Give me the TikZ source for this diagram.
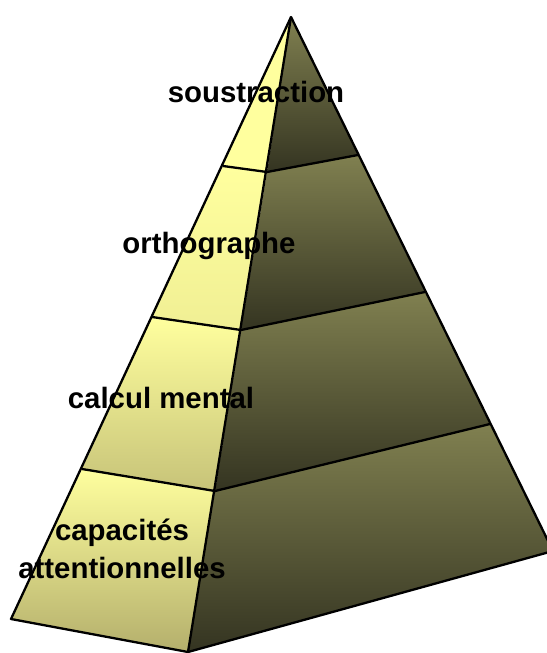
\documentclass[tikz,border=0pt]{standalone}
\usepackage{fontspec}
\setmainfont{Liberation Sans}
\definecolor{lightface}{RGB}{255,255,158}
\definecolor{lightfacedark}{RGB}{180,175,108}
\definecolor{darkface}{RGB}{128,128,80}
\definecolor{darkfacedark}{RGB}{52,52,33}

\begin{document}
\begin{tikzpicture}[x=1bp, y=-1bp, every node/.style={font=\fontsize{29.5}{36}\selectfont\bfseries, anchor=base, inner sep=0pt},
  edge/.style={line width=2.3bp, line join=round}]
  \useasboundingbox (0,0) rectangle (547,653);
  % corners of the pyramid, layer by layer (0 = apex, 4 = base)
  \coordinate (L0) at (291,17);  \coordinate (F0) at (291,17);  \coordinate (R0) at (291,17);
  \coordinate (L1) at (223,166); \coordinate (F1) at (267,172); \coordinate (R1) at (358,155);
  \coordinate (L2) at (152,317); \coordinate (F2) at (241,330); \coordinate (R2) at (425,292);
  \coordinate (L3) at (82,469);  \coordinate (F3) at (215,491); \coordinate (R3) at (490,424);
  \coordinate (L4) at (11,619);  \coordinate (F4) at (188,652); \coordinate (R4) at (553,551);
  \foreach \i/\mix in {1/0,2/20,3/75,4/100} {
    \pgfmathtruncatemacro{\j}{\i-1}
    \shade[top color=lightface, bottom color=lightfacedark!\mix!lightface] (L\j) -- (L\i) -- (F\i) -- (F\j) -- cycle;
    \shade[top color=darkface, bottom color=darkfacedark] (F\j) -- (F\i) -- (R\i) -- (R\j) -- cycle;
  }
  \draw[edge] (L0) -- (L4) -- (F4) -- (R4) -- cycle;
  \draw[edge] (F0) -- (F4);
  \foreach \i in {1,2,3}
    \draw[edge] (L\i) -- (F\i) -- (R\i);
  % labels
  \node (soustraction) at (256,103) {soustraction};
  \node (orthographe) at (209,253) {orthographe};
  \node (calcul) at (161,408) {calcul mental};
  \node (capacites) at (122,540) {capacités};
  \node (attention) at (122,578) {attentionnelles};
\end{tikzpicture}
\end{document}
